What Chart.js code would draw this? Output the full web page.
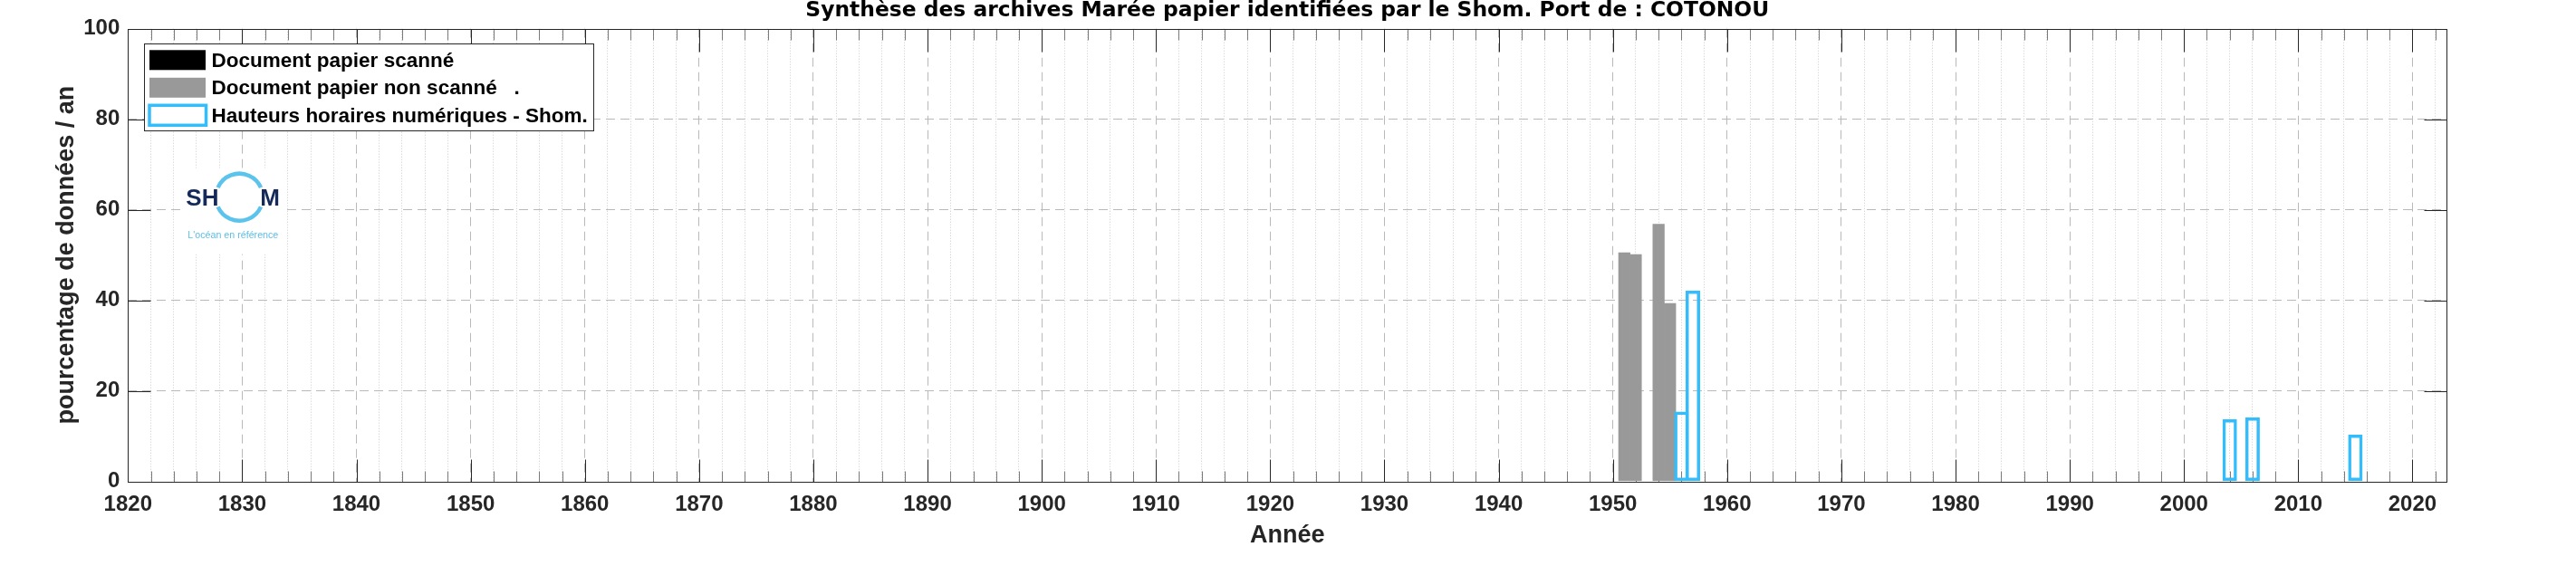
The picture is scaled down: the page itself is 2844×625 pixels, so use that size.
<!DOCTYPE html>
<html>
<head>
<meta charset="utf-8">
<title>Synthèse des archives Marée - COTONOU</title>
<script src="https://cdn.jsdelivr.net/npm/chart.js@4.4.1/dist/chart.umd.min.js"></script>
<style>
  html, body { margin: 0; padding: 0; background: #fff; }
  canvas { display: block; }
</style>
</head>
<body>
<canvas id="myChart" width="2844" height="625"></canvas>
<script>
// data (percent of data per year)
const scannedYears = [];
const scannedValues = [];
const paperYears = [1951, 1952, 1954, 1955];
const paperValues = [50.5, 50.1, 56.8, 39.3];
const digitalYears = [1956, 1957, 2004, 2006, 2015];
const digitalValues = [15.4, 42.1, 13.7, 14.1, 10.3];

const seriesLabels = ["Document papier scanné", "Document papier non scanné   .", "Hauteurs horaires numériques - Shom."];
const yearTicks = [1820, 1830, 1840, 1850, 1860, 1870, 1880, 1890, 1900, 1910, 1920, 1930, 1940, 1950, 1960, 1970, 1980, 1990, 2000, 2010, 2020];
const yTicks = [0, 20, 40, 60, 80, 100];
const yearMin = 1820;
const yearMax = 2023;

const titleText = "Synthèse des archives Marée papier identifiées par le Shom. Port de : COTONOU";
const FONT = "'Liberation Sans', Arial, Helvetica, sans-serif";
const AXIS = '#262626';

function toPoints(years, values) {
  return years.map((yr, i) => ({ x: yr, y: values[i] }));
}

// box + inward tick marks, like the original figure
const frameAndTicks = {
  id: 'frameAndTicks',
  beforeDatasetsDraw(chart) {
    const { ctx, chartArea: a, scales: { x, y } } = chart;
    const L = Math.round(a.left) + 0.5, R = Math.round(a.right) + 0.5;
    const T = Math.round(a.top) + 0.5, B = Math.round(a.bottom) + 0.5;
    ctx.save();
    ctx.lineWidth = 1;
    x.ticks.forEach(t => {
      const major = yearTicks.includes(t.value);
      const px = Math.round(x.getPixelForValue(t.value)) + 0.5;
      const len = major ? 25 : 12;
      ctx.strokeStyle = major ? AXIS : '#7a7a7a';
      ctx.beginPath();
      ctx.moveTo(px, B); ctx.lineTo(px, B - len);
      ctx.moveTo(px, T); ctx.lineTo(px, T + len);
      ctx.stroke();
    });
    ctx.strokeStyle = AXIS;
    y.ticks.forEach(t => {
      const py = Math.round(y.getPixelForValue(t.value)) + 0.5;
      ctx.beginPath();
      ctx.moveTo(L, py); ctx.lineTo(L + 25, py);
      ctx.moveTo(R, py); ctx.lineTo(R - 25, py);
      ctx.stroke();
    });
    ctx.strokeRect(L, T, R - L, B - T);
    ctx.restore();
  }
};

// legend box in the top-left corner of the axes + Shom logo
const boxLegend = {
  id: 'boxLegend',
  afterDraw(chart) {
    const { ctx, chartArea: a } = chart;
    const ds = chart.data.datasets;
    ctx.save();

    // logo
    const lx = a.left + 58, ly = a.top + 154;
    ctx.fillStyle = '#ffffff';
    ctx.fillRect(lx, ly, 113, 95);
    ctx.fillStyle = '#15295a';
    ctx.font = 'bold 26px ' + FONT;
    ctx.textBaseline = 'alphabetic';
    ctx.textAlign = 'left';
    ctx.fillText('SH', lx + 6, ly + 41);
    ctx.fillText('M', lx + 88, ly + 41);
    ctx.strokeStyle = '#5cc4ec';
    ctx.lineWidth = 4.5;
    const cx = lx + 65, cy = ly + 32, r = 26;
    ctx.beginPath();
    ctx.arc(cx, cy, r, Math.PI + 0.42, 2 * Math.PI - 0.42);
    ctx.stroke();
    ctx.beginPath();
    ctx.arc(cx, cy, r, 0.42, Math.PI - 0.42);
    ctx.stroke();
    ctx.fillStyle = '#5bbfe9';
    ctx.font = '11px ' + FONT;
    ctx.fillText("L'océan en référence", lx + 8, ly + 77, 100);

    // legend
    ctx.font = 'bold 22.5px ' + FONT;
    const bx = a.left + 18, by = a.top + 16.6;
    const swX = bx + 5.7, swW = 62, swH = 22, pitch = 30.5;
    const txX = swX + swW + 6.6;
    let maxW = 0;
    ds.forEach(d => { maxW = Math.max(maxW, ctx.measureText(d.label).width); });
    const bw = txX + maxW + 6.5 - bx, bh = 95.7;
    ctx.fillStyle = '#ffffff';
    ctx.fillRect(bx, by, bw, bh);
    ctx.strokeStyle = AXIS;
    ctx.lineWidth = 1;
    ctx.strokeRect(Math.round(bx) + 0.5, Math.round(by) + 0.5, Math.round(bw), Math.round(bh));
    ds.forEach((d, i) => {
      const top = by + 7 + i * pitch;
      if (d.borderWidth > 0) {
        ctx.strokeStyle = d.borderColor;
        ctx.lineWidth = d.borderWidth;
        ctx.strokeRect(swX, top, swW + 0.5, swH);
      } else {
        ctx.fillStyle = d.backgroundColor;
        ctx.fillRect(swX, top, swW, swH);
      }
      ctx.fillStyle = '#000000';
      ctx.textBaseline = 'middle';
      ctx.fillText(d.label, txX, top + swH / 2 + 1);
    });
    ctx.restore();
  }
};

const ctx = document.getElementById('myChart');

new Chart(ctx, {
  type: 'bar',
  data: {
    datasets: [{
      label: seriesLabels[0],
      data: toPoints(scannedYears, scannedValues),
      backgroundColor: '#000000',
      borderWidth: 0,
      grouped: false,
      barPercentage: 1,
      categoryPercentage: 1,
      order: 2
    }, {
      label: seriesLabels[1],
      data: toPoints(paperYears, paperValues),
      backgroundColor: '#999999',
      borderWidth: 0,
      grouped: false,
      barPercentage: 1,
      categoryPercentage: 1,
      order: 1
    }, {
      label: seriesLabels[2],
      data: toPoints(digitalYears, digitalValues),
      backgroundColor: 'rgba(0,0,0,0)',
      borderColor: '#33bdfc',
      borderWidth: 3.5,
      borderSkipped: false,
      grouped: false,
      barPercentage: 1.27,
      categoryPercentage: 1,
      order: 0
    }]
  },
  options: {
    responsive: false,
    animation: false,
    devicePixelRatio: 1,
    layout: { padding: { left: 0, right: 142.7, top: 0, bottom: 0 } },
    plugins: {
      legend: { display: false },
      tooltip: { enabled: false },
      title: {
        display: true,
        text: titleText,
        fullSize: false,
        color: '#000000',
        font: { family: "'DejaVu Sans', sans-serif", size: 23.4, weight: 'bold', lineHeight: 1.0 },
        padding: { top: 0, bottom: 8.3 }
      }
    },
    scales: {
      x: {
        type: 'linear',
        min: yearMin,
        max: yearMax,
        offset: false,
        afterFit(scale) { scale.height = 93.5; },
        grid: {
          offset: false,
          drawTicks: false,
          lineWidth: 1,
          color(c) {
            if (!c.tick || c.tick.value === yearMin) return 'rgba(0,0,0,0)';
            return yearTicks.includes(c.tick.value) ? '#b9b9b9' : '#cbcbcb';
          }
        },
        border: {
          display: false,
          dash(c) {
            return c.tick && yearTicks.includes(c.tick.value) ? [10, 6] : [1, 2];
          }
        },
        ticks: {
          stepSize: 2,
          includeBounds: false,
          autoSkip: false,
          maxRotation: 0,
          minRotation: 0,
          padding: 11.6,
          color: AXIS,
          font: { family: FONT, size: 24, weight: 'bold' },
          callback: (v) => yearTicks.includes(v) ? String(v) : ''
        },
        title: {
          display: true,
          text: 'Année',
          color: AXIS,
          font: { family: FONT, size: 27, weight: 'bold' },
          padding: { top: 0, bottom: 17.1 }
        }
      },
      y: {
        min: yTicks[0],
        max: yTicks[yTicks.length - 1],
        afterFit(scale) { scale.width = 141.3; },
        afterBuildTicks(scale) { scale.ticks = yTicks.map(v => ({ value: v })); },
        grid: {
          drawTicks: false,
          lineWidth: 1,
          color(c) {
            if (!c.tick || c.tick.value === yTicks[0] || c.tick.value === yTicks[yTicks.length - 1]) return 'rgba(0,0,0,0)';
            return '#b9b9b9';
          }
        },
        border: { display: false, dash: [10, 6] },
        ticks: {
          padding: 9,
          color: AXIS,
          font: { family: FONT, size: 24, weight: 'bold' }
        },
        title: {
          display: true,
          text: 'pourcentage de données / an',
          color: AXIS,
          font: { family: FONT, size: 27, weight: 'bold' },
          padding: { top: 57, bottom: 0 }
        }
      }
    }
  },
  plugins: [frameAndTicks, boxLegend]
});
</script>
</body>
</html>
